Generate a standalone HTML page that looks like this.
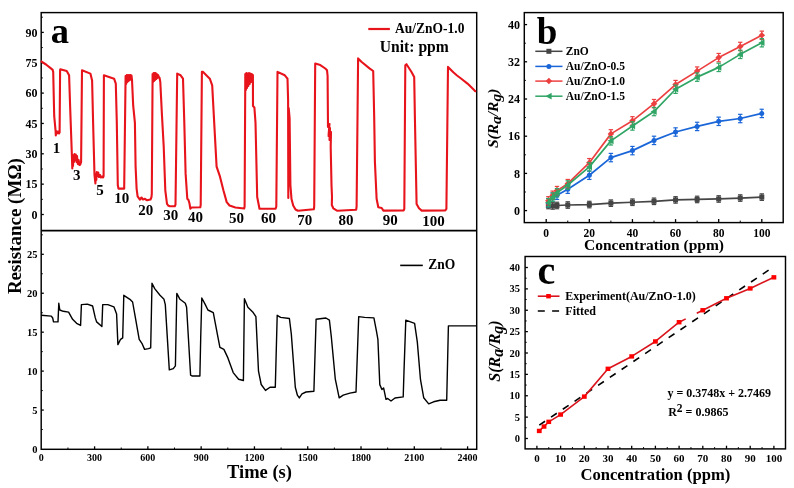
<!DOCTYPE html>
<html><head><meta charset="utf-8"><style>
html,body{margin:0;padding:0;background:#fff;width:794px;height:488px;overflow:hidden}
svg{display:block;will-change:transform}
text{font-family:"Liberation Serif", serif;fill:#000}
</style></head><body>
<svg width="794" height="488" viewBox="0 0 794 488">
<rect x="41.2" y="12.6" width="435.5" height="436.7" fill="none" stroke="#000" stroke-width="1.45"/>
<line x1="41.2" y1="230.7" x2="476.7" y2="230.7" stroke="#000" stroke-width="1.8" />
<line x1="41.2" y1="214.5" x2="43.8" y2="214.5" stroke="#000" stroke-width="1.3" />
<text x="37.6" y="218.6" font-size="12" font-weight="bold" text-anchor="end" >0</text>
<line x1="41.2" y1="184.15" x2="43.8" y2="184.15" stroke="#000" stroke-width="1.3" />
<text x="37.6" y="188.25" font-size="12" font-weight="bold" text-anchor="end" >15</text>
<line x1="41.2" y1="153.8" x2="43.8" y2="153.8" stroke="#000" stroke-width="1.3" />
<text x="37.6" y="157.9" font-size="12" font-weight="bold" text-anchor="end" >30</text>
<line x1="41.2" y1="123.45" x2="43.8" y2="123.45" stroke="#000" stroke-width="1.3" />
<text x="37.6" y="127.55" font-size="12" font-weight="bold" text-anchor="end" >45</text>
<line x1="41.2" y1="93.1" x2="43.8" y2="93.1" stroke="#000" stroke-width="1.3" />
<text x="37.6" y="97.2" font-size="12" font-weight="bold" text-anchor="end" >60</text>
<line x1="41.2" y1="62.75" x2="43.8" y2="62.75" stroke="#000" stroke-width="1.3" />
<text x="37.6" y="66.85" font-size="12" font-weight="bold" text-anchor="end" >75</text>
<line x1="41.2" y1="32.4" x2="43.8" y2="32.4" stroke="#000" stroke-width="1.3" />
<text x="37.6" y="36.5" font-size="12" font-weight="bold" text-anchor="end" >90</text>
<line x1="41.2" y1="199.33" x2="42.8" y2="199.33" stroke="#000" stroke-width="1.0" />
<line x1="41.2" y1="168.98" x2="42.8" y2="168.98" stroke="#000" stroke-width="1.0" />
<line x1="41.2" y1="138.63" x2="42.8" y2="138.63" stroke="#000" stroke-width="1.0" />
<line x1="41.2" y1="108.28" x2="42.8" y2="108.28" stroke="#000" stroke-width="1.0" />
<line x1="41.2" y1="77.93" x2="42.8" y2="77.93" stroke="#000" stroke-width="1.0" />
<line x1="41.2" y1="47.58" x2="42.8" y2="47.58" stroke="#000" stroke-width="1.0" />
<line x1="41.2" y1="17.23" x2="42.8" y2="17.23" stroke="#000" stroke-width="1.0" />
<text x="37.4" y="452.6" font-size="10.5" font-weight="bold" text-anchor="end" >0</text>
<line x1="41.2" y1="410.06" x2="43.8" y2="410.06" stroke="#000" stroke-width="1.3" />
<text x="37.4" y="413.66" font-size="10.5" font-weight="bold" text-anchor="end" >5</text>
<line x1="41.2" y1="371.12" x2="43.8" y2="371.12" stroke="#000" stroke-width="1.3" />
<text x="37.4" y="374.72" font-size="10.5" font-weight="bold" text-anchor="end" >10</text>
<line x1="41.2" y1="332.18" x2="43.8" y2="332.18" stroke="#000" stroke-width="1.3" />
<text x="37.4" y="335.78" font-size="10.5" font-weight="bold" text-anchor="end" >15</text>
<line x1="41.2" y1="293.24" x2="43.8" y2="293.24" stroke="#000" stroke-width="1.3" />
<text x="37.4" y="296.84" font-size="10.5" font-weight="bold" text-anchor="end" >20</text>
<line x1="41.2" y1="254.3" x2="43.8" y2="254.3" stroke="#000" stroke-width="1.3" />
<text x="37.4" y="257.9" font-size="10.5" font-weight="bold" text-anchor="end" >25</text>
<line x1="41.2" y1="429.53" x2="42.8" y2="429.53" stroke="#000" stroke-width="1.0" />
<line x1="41.2" y1="390.59" x2="42.8" y2="390.59" stroke="#000" stroke-width="1.0" />
<line x1="41.2" y1="351.65" x2="42.8" y2="351.65" stroke="#000" stroke-width="1.0" />
<line x1="41.2" y1="312.71" x2="42.8" y2="312.71" stroke="#000" stroke-width="1.0" />
<line x1="41.2" y1="273.77" x2="42.8" y2="273.77" stroke="#000" stroke-width="1.0" />
<line x1="41.2" y1="234.83" x2="42.8" y2="234.83" stroke="#000" stroke-width="1.0" />
<text x="41.3" y="461.3" font-size="10" font-weight="bold" text-anchor="middle" >0</text>
<line x1="94.59" y1="449.3" x2="94.59" y2="446.3" stroke="#000" stroke-width="1.3" />
<text x="94.59" y="461.3" font-size="10" font-weight="bold" text-anchor="middle" >300</text>
<line x1="147.87" y1="449.3" x2="147.87" y2="446.3" stroke="#000" stroke-width="1.3" />
<text x="147.87" y="461.3" font-size="10" font-weight="bold" text-anchor="middle" >600</text>
<line x1="201.16" y1="449.3" x2="201.16" y2="446.3" stroke="#000" stroke-width="1.3" />
<text x="201.16" y="461.3" font-size="10" font-weight="bold" text-anchor="middle" >900</text>
<line x1="254.44" y1="449.3" x2="254.44" y2="446.3" stroke="#000" stroke-width="1.3" />
<text x="254.44" y="461.3" font-size="10" font-weight="bold" text-anchor="middle" >1200</text>
<line x1="307.73" y1="449.3" x2="307.73" y2="446.3" stroke="#000" stroke-width="1.3" />
<text x="307.73" y="461.3" font-size="10" font-weight="bold" text-anchor="middle" >1500</text>
<line x1="361.02" y1="449.3" x2="361.02" y2="446.3" stroke="#000" stroke-width="1.3" />
<text x="361.02" y="461.3" font-size="10" font-weight="bold" text-anchor="middle" >1800</text>
<line x1="414.3" y1="449.3" x2="414.3" y2="446.3" stroke="#000" stroke-width="1.3" />
<text x="414.3" y="461.3" font-size="10" font-weight="bold" text-anchor="middle" >2100</text>
<line x1="467.59" y1="449.3" x2="467.59" y2="446.3" stroke="#000" stroke-width="1.3" />
<text x="467.59" y="461.3" font-size="10" font-weight="bold" text-anchor="middle" >2400</text>
<line x1="67.94" y1="449.3" x2="67.94" y2="447.5" stroke="#000" stroke-width="1.0" />
<line x1="121.23" y1="449.3" x2="121.23" y2="447.5" stroke="#000" stroke-width="1.0" />
<line x1="174.51" y1="449.3" x2="174.51" y2="447.5" stroke="#000" stroke-width="1.0" />
<line x1="227.8" y1="449.3" x2="227.8" y2="447.5" stroke="#000" stroke-width="1.0" />
<line x1="281.09" y1="449.3" x2="281.09" y2="447.5" stroke="#000" stroke-width="1.0" />
<line x1="334.37" y1="449.3" x2="334.37" y2="447.5" stroke="#000" stroke-width="1.0" />
<line x1="387.66" y1="449.3" x2="387.66" y2="447.5" stroke="#000" stroke-width="1.0" />
<line x1="440.94" y1="449.3" x2="440.94" y2="447.5" stroke="#000" stroke-width="1.0" />
<text x="259.5" y="477.9" font-size="18.5" font-weight="bold" text-anchor="middle" >Time (s)</text>
<text transform="translate(20.6,226.1) rotate(-90)" font-size="19" font-weight="bold" text-anchor="middle">Resistance (MΩ)</text>
<text x="50.8" y="42.8" font-size="36.5" font-weight="bold" text-anchor="start" >a</text>
<line x1="368.3" y1="29" x2="389.9" y2="29" stroke="#e8141c" stroke-width="2.2" />
<g transform="translate(395.1,33.1) scale(1,1.12)">
<text x="0" y="0" font-size="13.5" font-weight="bold" text-anchor="start" >Au/ZnO-1.0</text>
</g>
<text x="379.8" y="51.6" font-size="16" font-weight="bold" text-anchor="start" textLength="69" lengthAdjust="spacingAndGlyphs">Unit: ppm</text>
<line x1="400.2" y1="265.4" x2="422.8" y2="265.4" stroke="#000" stroke-width="1.6" />
<g transform="translate(428.2,269.2) scale(1,1.1)">
<text x="0" y="0" font-size="13.5" font-weight="bold" text-anchor="start" >ZnO</text>
</g>
<text x="56.6" y="153.4" font-size="15" font-weight="bold" text-anchor="middle" >1</text>
<text x="76.7" y="179.8" font-size="15" font-weight="bold" text-anchor="middle" >3</text>
<text x="99.9" y="194.9" font-size="15" font-weight="bold" text-anchor="middle" >5</text>
<text x="121.8" y="203.2" font-size="15" font-weight="bold" text-anchor="middle" >10</text>
<text x="145.7" y="214.6" font-size="15" font-weight="bold" text-anchor="middle" >20</text>
<text x="170.8" y="220" font-size="15" font-weight="bold" text-anchor="middle" >30</text>
<text x="195.5" y="221.5" font-size="15" font-weight="bold" text-anchor="middle" >40</text>
<text x="236.5" y="223.3" font-size="15" font-weight="bold" text-anchor="middle" >50</text>
<text x="268.6" y="223" font-size="15" font-weight="bold" text-anchor="middle" >60</text>
<text x="304.7" y="225" font-size="15" font-weight="bold" text-anchor="middle" >70</text>
<text x="346" y="224.6" font-size="15" font-weight="bold" text-anchor="middle" >80</text>
<text x="390.3" y="225.4" font-size="15" font-weight="bold" text-anchor="middle" >90</text>
<text x="433.4" y="226" font-size="15" font-weight="bold" text-anchor="middle" >100</text>
<polyline points="40.8,61.1 46,64.5 50.9,68.4 52.7,69.9 53.2,72 54.2,115.9 55.6,131.1 55.8,135.5 56.3,131 57,133.5 58,131.5 59,133.5 59.6,132.5 60.1,70.2 60.3,69.2 66.7,70.9 69.1,75.3 70.1,105.7 71.8,153 72.3,168.5 72.6,158 73,166 73.5,155 74,162 74.5,154 75.2,160 75.8,154.5 76.5,162 77,156 77.8,164 78.6,160 79.5,165 80.3,164.5 81.1,162 82,70.2 90.4,73.6 92.1,80.4 93.1,122.6 94.5,175 95.4,183.5 95.8,174 96.3,180 96.8,172 97.5,176 98.2,172.5 99,177 100,175 101,177.5 102.2,176.5 103,177.5 103.6,176 103.9,75.3 114.1,78.7 115.8,83.7 116.8,122.6 117.8,185.2 118.5,188.6 124.2,188.6 124.2,186.9 125.6,76 126.2,84 126.8,75 127.4,82 128,75 128.6,81 129.2,75 129.8,80 130.4,75 131,79 131.5,75.5 132,80 133.2,105.7 134.9,122.6 135.6,166.6 136.6,188.6 137.6,196.3 139.9,199.6 141.5,197.5 143,199.5 145,198.8 147,200.3 150.5,199.5 151.5,197 151.8,193.7 152.6,74 153.1,82 153.6,73 154.1,81 154.6,73 155.1,80 155.6,73 156.2,79 156.8,74 157.4,78 158,75 158.8,77 159.6,78 160.3,82 162,115.9 163.7,146.3 165.3,190.3 167,203.8 168.5,205.8 170,206.3 174.8,206.3 175.5,204.5 177.2,73.6 180.6,75.3 183,78.7 184.3,122.6 185.6,173.4 187.3,198.7 188.5,200 189.5,203.5 190.3,208.7 191.5,207.5 200.3,207.3 200.7,205 201.9,71.9 203.1,71.9 209.8,78.7 212.2,85.4 214.2,122.6 216.6,166.6 220,176.7 223.4,190.3 226.7,202.1 229.5,205.5 235.4,207.5 244.2,208.5 244.6,206.5 245.3,74 245.9,90 246.4,73 247,88 247.6,73.5 248.3,86 249,73 249.7,84 250.4,73.5 251.1,82 251.8,74 252.5,80 252.9,75 253,106 254.4,107.5 255.5,122.6 257.2,197 259.5,208.7 275.6,208.7 276.3,206.5 277.5,71.9 284.8,75.3 287.5,78.7 288.1,100 288.3,198 288.7,108 289.6,118 290.4,185 291.5,199 293.2,205.5 295.5,209.5 298,210.8 313.8,209.3 314.2,206.5 315.2,63.5 320.3,65.1 325.3,68.5 327,70.2 327.6,76 328,127 329.5,124 328.5,136 330,128 329.5,140 331,132 330.7,147 331.5,185 332,197 331.8,205 333.3,208.3 337.4,210.8 356.2,209.7 356.6,206.5 358.1,58.4 361.4,61.8 369.8,68.6 373.2,71 374.2,117.6 374.9,161.6 376.6,198.8 378.3,207.3 381.7,208 383.4,210.6 403.7,210.4 404.3,208.9 405.3,65.2 406.5,64.2 411.5,72 414.2,77.1 414.9,117.6 416.6,203.9 419,208.3 421.7,210.6 445.3,210.4 446.4,208.9 448,66.9 450.5,69.5 453.3,72.3 457,75.5 461,78.5 467.5,83.6 474.6,90.6 476,91.8" fill="none" stroke="#e8141c" stroke-width="2.1" stroke-linejoin="round" />
<polyline points="41.2,315.3 51.3,316.1 52.7,318 53.5,321.9 58,321.9 58.8,303.3 59.8,310 63.3,311.3 68.6,312.1 72.6,319.3 76.6,323.3 80.6,325.4 81.4,304.6 87.3,304.1 92.6,306 95.3,317.9 96.6,321.9 101.9,326.5 102.7,304.6 107.8,304.6 113.9,306.8 116.6,314 117.9,344.6 120.6,339.3 122.7,337.9 123.8,295.3 129.9,299.3 132.6,302 135.2,316.6 139.2,339.3 141.9,343.3 144.6,349.4 148.5,348.6 150.7,347.8 152,283.3 154.7,288.6 160,295.3 164,299.3 165.3,304.6 169.3,369.9 173.3,368.6 175.4,365.9 176.8,293.4 180,299.3 185.3,303.3 186.6,307.3 190.6,375.2 192,376 199.9,376 200.7,337.9 201.8,298 205.3,304.6 207.9,310 213.3,312.6 217.3,333.9 219.9,347.3 223.9,349.4 227.9,357.9 233.2,372.6 238.6,379.2 243.4,380.5 244.4,298.8 247.9,307.3 253.2,312.6 255.9,316.6 258.5,371.2 261.2,384.5 265.5,390.4 270,387.2 275.3,387.2 277.2,315.3 280.6,317.4 289.4,318.5 291.3,333.9 295.3,387.2 297.4,395.2 299.3,397.9 302,393.9 306,392 313.9,391.2 316.1,319.3 325.9,318 329.4,320.1 331.3,336.6 335.3,379.2 339.2,397.9 343.2,395.2 349.9,393.1 356,392 358.7,316.6 364.6,317.4 373.9,317.9 376.5,331.3 377.9,339.3 379.8,384.6 381.9,389.5 383.6,387.9 386,399.3 387.7,398.5 391,401 395,398 403.2,396.9 404,371.2 405.8,320.1 414.6,323.3 417.3,341.9 420.5,379.7 423.7,397.7 428.7,403.9 433.6,401.8 440.1,400.2 446.7,400.2 448.4,325.9 476,325.9" fill="none" stroke="#000" stroke-width="1.4" stroke-linejoin="round" />
<rect x="524.3" y="12.6" width="258.9" height="210" fill="none" stroke="#000" stroke-width="1.45"/>
<line x1="524.3" y1="210.6" x2="527.1" y2="210.6" stroke="#000" stroke-width="1.3" />
<text x="519.9" y="214.7" font-size="12" font-weight="bold" text-anchor="end" >0</text>
<line x1="524.3" y1="173.4" x2="527.1" y2="173.4" stroke="#000" stroke-width="1.3" />
<text x="519.9" y="177.5" font-size="12" font-weight="bold" text-anchor="end" >8</text>
<line x1="524.3" y1="136.2" x2="527.1" y2="136.2" stroke="#000" stroke-width="1.3" />
<text x="519.9" y="140.3" font-size="12" font-weight="bold" text-anchor="end" >16</text>
<line x1="524.3" y1="99" x2="527.1" y2="99" stroke="#000" stroke-width="1.3" />
<text x="519.9" y="103.1" font-size="12" font-weight="bold" text-anchor="end" >24</text>
<line x1="524.3" y1="61.8" x2="527.1" y2="61.8" stroke="#000" stroke-width="1.3" />
<text x="519.9" y="65.9" font-size="12" font-weight="bold" text-anchor="end" >32</text>
<line x1="524.3" y1="24.6" x2="527.1" y2="24.6" stroke="#000" stroke-width="1.3" />
<text x="519.9" y="28.7" font-size="12" font-weight="bold" text-anchor="end" >40</text>
<line x1="524.3" y1="192" x2="525.9" y2="192" stroke="#000" stroke-width="1.0" />
<line x1="524.3" y1="154.8" x2="525.9" y2="154.8" stroke="#000" stroke-width="1.0" />
<line x1="524.3" y1="117.6" x2="525.9" y2="117.6" stroke="#000" stroke-width="1.0" />
<line x1="524.3" y1="80.4" x2="525.9" y2="80.4" stroke="#000" stroke-width="1.0" />
<line x1="524.3" y1="43.2" x2="525.9" y2="43.2" stroke="#000" stroke-width="1.0" />
<line x1="546.2" y1="222.6" x2="546.2" y2="219.1" stroke="#000" stroke-width="1.3" />
<text x="546.2" y="236.8" font-size="11.5" font-weight="bold" text-anchor="middle" >0</text>
<line x1="589.32" y1="222.6" x2="589.32" y2="219.1" stroke="#000" stroke-width="1.3" />
<text x="589.32" y="236.8" font-size="11.5" font-weight="bold" text-anchor="middle" >20</text>
<line x1="632.44" y1="222.6" x2="632.44" y2="219.1" stroke="#000" stroke-width="1.3" />
<text x="632.44" y="236.8" font-size="11.5" font-weight="bold" text-anchor="middle" >40</text>
<line x1="675.56" y1="222.6" x2="675.56" y2="219.1" stroke="#000" stroke-width="1.3" />
<text x="675.56" y="236.8" font-size="11.5" font-weight="bold" text-anchor="middle" >60</text>
<line x1="718.68" y1="222.6" x2="718.68" y2="219.1" stroke="#000" stroke-width="1.3" />
<text x="718.68" y="236.8" font-size="11.5" font-weight="bold" text-anchor="middle" >80</text>
<line x1="761.8" y1="222.6" x2="761.8" y2="219.1" stroke="#000" stroke-width="1.3" />
<text x="761.8" y="236.8" font-size="11.5" font-weight="bold" text-anchor="middle" >100</text>
<line x1="567.76" y1="222.6" x2="567.76" y2="220.6" stroke="#000" stroke-width="1.0" />
<line x1="610.88" y1="222.6" x2="610.88" y2="220.6" stroke="#000" stroke-width="1.0" />
<line x1="654" y1="222.6" x2="654" y2="220.6" stroke="#000" stroke-width="1.0" />
<line x1="697.12" y1="222.6" x2="697.12" y2="220.6" stroke="#000" stroke-width="1.0" />
<line x1="740.24" y1="222.6" x2="740.24" y2="220.6" stroke="#000" stroke-width="1.0" />
<text x="654" y="249.8" font-size="15.5" font-weight="bold" text-anchor="middle" >Concentration (ppm)</text>
<text transform="translate(497.5,118.4) rotate(-90)" font-size="15.5" font-weight="bold" font-style="italic" text-anchor="middle">S(R<tspan dy="3.5">a</tspan><tspan dy="-3.5">/R</tspan><tspan dy="3.5">g</tspan><tspan dy="-3.5">)</tspan></text>
<text x="536.8" y="44" font-size="37" font-weight="bold" text-anchor="start" >b</text>
<polyline points="548.36,205.48 552.67,205.95 556.98,205.48 567.76,205.02 589.32,204.56 610.88,203.16 632.44,202.23 654,201.3 675.56,199.91 697.12,199.44 718.68,198.97 740.24,198.04 761.8,197.11" fill="none" stroke="#454545" stroke-width="1.7" stroke-linejoin="round" />
<line x1="548.36" y1="202.23" x2="548.36" y2="208.74" stroke="#454545" stroke-width="1.2" />
<line x1="546.16" y1="202.23" x2="550.56" y2="202.23" stroke="#454545" stroke-width="1.2" />
<line x1="546.16" y1="208.74" x2="550.56" y2="208.74" stroke="#454545" stroke-width="1.2" />
<rect x="545.86" y="202.98" width="5" height="5" fill="#454545"/>
<line x1="552.67" y1="202.69" x2="552.67" y2="209.2" stroke="#454545" stroke-width="1.2" />
<line x1="550.47" y1="202.69" x2="554.87" y2="202.69" stroke="#454545" stroke-width="1.2" />
<line x1="550.47" y1="209.2" x2="554.87" y2="209.2" stroke="#454545" stroke-width="1.2" />
<rect x="550.17" y="203.45" width="5" height="5" fill="#454545"/>
<line x1="556.98" y1="202.23" x2="556.98" y2="208.74" stroke="#454545" stroke-width="1.2" />
<line x1="554.78" y1="202.23" x2="559.18" y2="202.23" stroke="#454545" stroke-width="1.2" />
<line x1="554.78" y1="208.74" x2="559.18" y2="208.74" stroke="#454545" stroke-width="1.2" />
<rect x="554.48" y="202.98" width="5" height="5" fill="#454545"/>
<line x1="567.76" y1="201.76" x2="567.76" y2="208.27" stroke="#454545" stroke-width="1.2" />
<line x1="565.56" y1="201.76" x2="569.96" y2="201.76" stroke="#454545" stroke-width="1.2" />
<line x1="565.56" y1="208.27" x2="569.96" y2="208.27" stroke="#454545" stroke-width="1.2" />
<rect x="565.26" y="202.52" width="5" height="5" fill="#454545"/>
<line x1="589.32" y1="201.3" x2="589.32" y2="207.81" stroke="#454545" stroke-width="1.2" />
<line x1="587.12" y1="201.3" x2="591.52" y2="201.3" stroke="#454545" stroke-width="1.2" />
<line x1="587.12" y1="207.81" x2="591.52" y2="207.81" stroke="#454545" stroke-width="1.2" />
<rect x="586.82" y="202.06" width="5" height="5" fill="#454545"/>
<line x1="610.88" y1="199.91" x2="610.88" y2="206.41" stroke="#454545" stroke-width="1.2" />
<line x1="608.68" y1="199.91" x2="613.08" y2="199.91" stroke="#454545" stroke-width="1.2" />
<line x1="608.68" y1="206.41" x2="613.08" y2="206.41" stroke="#454545" stroke-width="1.2" />
<rect x="608.38" y="200.66" width="5" height="5" fill="#454545"/>
<line x1="632.44" y1="198.97" x2="632.44" y2="205.48" stroke="#454545" stroke-width="1.2" />
<line x1="630.24" y1="198.97" x2="634.64" y2="198.97" stroke="#454545" stroke-width="1.2" />
<line x1="630.24" y1="205.48" x2="634.64" y2="205.48" stroke="#454545" stroke-width="1.2" />
<rect x="629.94" y="199.73" width="5" height="5" fill="#454545"/>
<line x1="654" y1="198.04" x2="654" y2="204.55" stroke="#454545" stroke-width="1.2" />
<line x1="651.8" y1="198.04" x2="656.2" y2="198.04" stroke="#454545" stroke-width="1.2" />
<line x1="651.8" y1="204.55" x2="656.2" y2="204.55" stroke="#454545" stroke-width="1.2" />
<rect x="651.5" y="198.8" width="5" height="5" fill="#454545"/>
<line x1="675.56" y1="196.65" x2="675.56" y2="203.16" stroke="#454545" stroke-width="1.2" />
<line x1="673.36" y1="196.65" x2="677.76" y2="196.65" stroke="#454545" stroke-width="1.2" />
<line x1="673.36" y1="203.16" x2="677.76" y2="203.16" stroke="#454545" stroke-width="1.2" />
<rect x="673.06" y="197.41" width="5" height="5" fill="#454545"/>
<line x1="697.12" y1="196.19" x2="697.12" y2="202.69" stroke="#454545" stroke-width="1.2" />
<line x1="694.92" y1="196.19" x2="699.32" y2="196.19" stroke="#454545" stroke-width="1.2" />
<line x1="694.92" y1="202.69" x2="699.32" y2="202.69" stroke="#454545" stroke-width="1.2" />
<rect x="694.62" y="196.94" width="5" height="5" fill="#454545"/>
<line x1="718.68" y1="195.72" x2="718.68" y2="202.23" stroke="#454545" stroke-width="1.2" />
<line x1="716.48" y1="195.72" x2="720.88" y2="195.72" stroke="#454545" stroke-width="1.2" />
<line x1="716.48" y1="202.23" x2="720.88" y2="202.23" stroke="#454545" stroke-width="1.2" />
<rect x="716.18" y="196.47" width="5" height="5" fill="#454545"/>
<line x1="740.24" y1="194.79" x2="740.24" y2="201.3" stroke="#454545" stroke-width="1.2" />
<line x1="738.04" y1="194.79" x2="742.44" y2="194.79" stroke="#454545" stroke-width="1.2" />
<line x1="738.04" y1="201.3" x2="742.44" y2="201.3" stroke="#454545" stroke-width="1.2" />
<rect x="737.74" y="195.54" width="5" height="5" fill="#454545"/>
<line x1="761.8" y1="193.86" x2="761.8" y2="200.37" stroke="#454545" stroke-width="1.2" />
<line x1="759.6" y1="193.86" x2="764" y2="193.86" stroke="#454545" stroke-width="1.2" />
<line x1="759.6" y1="200.37" x2="764" y2="200.37" stroke="#454545" stroke-width="1.2" />
<rect x="759.3" y="194.61" width="5" height="5" fill="#454545"/>
<polyline points="548.36,202.69 552.67,197.11 556.98,195.25 567.76,189.21 589.32,175.26 610.88,157.59 632.44,150.61 654,140.38 675.56,132.01 697.12,126.43 718.68,121.32 740.24,118.53 761.8,113.41" fill="none" stroke="#1a66d8" stroke-width="1.7" stroke-linejoin="round" />
<line x1="548.36" y1="198.51" x2="548.36" y2="206.88" stroke="#1a66d8" stroke-width="1.2" />
<line x1="546.16" y1="198.51" x2="550.56" y2="198.51" stroke="#1a66d8" stroke-width="1.2" />
<line x1="546.16" y1="206.88" x2="550.56" y2="206.88" stroke="#1a66d8" stroke-width="1.2" />
<circle cx="548.36" cy="202.69" r="2.5" fill="#1a66d8"/>
<line x1="552.67" y1="192.93" x2="552.67" y2="201.3" stroke="#1a66d8" stroke-width="1.2" />
<line x1="550.47" y1="192.93" x2="554.87" y2="192.93" stroke="#1a66d8" stroke-width="1.2" />
<line x1="550.47" y1="201.3" x2="554.87" y2="201.3" stroke="#1a66d8" stroke-width="1.2" />
<circle cx="552.67" cy="197.11" r="2.5" fill="#1a66d8"/>
<line x1="556.98" y1="191.07" x2="556.98" y2="199.44" stroke="#1a66d8" stroke-width="1.2" />
<line x1="554.78" y1="191.07" x2="559.18" y2="191.07" stroke="#1a66d8" stroke-width="1.2" />
<line x1="554.78" y1="199.44" x2="559.18" y2="199.44" stroke="#1a66d8" stroke-width="1.2" />
<circle cx="556.98" cy="195.25" r="2.5" fill="#1a66d8"/>
<line x1="567.76" y1="185.02" x2="567.76" y2="193.39" stroke="#1a66d8" stroke-width="1.2" />
<line x1="565.56" y1="185.02" x2="569.96" y2="185.02" stroke="#1a66d8" stroke-width="1.2" />
<line x1="565.56" y1="193.39" x2="569.96" y2="193.39" stroke="#1a66d8" stroke-width="1.2" />
<circle cx="567.76" cy="189.21" r="2.5" fill="#1a66d8"/>
<line x1="589.32" y1="171.07" x2="589.32" y2="179.44" stroke="#1a66d8" stroke-width="1.2" />
<line x1="587.12" y1="171.07" x2="591.52" y2="171.07" stroke="#1a66d8" stroke-width="1.2" />
<line x1="587.12" y1="179.44" x2="591.52" y2="179.44" stroke="#1a66d8" stroke-width="1.2" />
<circle cx="589.32" cy="175.26" r="2.5" fill="#1a66d8"/>
<line x1="610.88" y1="153.4" x2="610.88" y2="161.77" stroke="#1a66d8" stroke-width="1.2" />
<line x1="608.68" y1="153.4" x2="613.08" y2="153.4" stroke="#1a66d8" stroke-width="1.2" />
<line x1="608.68" y1="161.77" x2="613.08" y2="161.77" stroke="#1a66d8" stroke-width="1.2" />
<circle cx="610.88" cy="157.59" r="2.5" fill="#1a66d8"/>
<line x1="632.44" y1="146.43" x2="632.44" y2="154.8" stroke="#1a66d8" stroke-width="1.2" />
<line x1="630.24" y1="146.43" x2="634.64" y2="146.43" stroke="#1a66d8" stroke-width="1.2" />
<line x1="630.24" y1="154.8" x2="634.64" y2="154.8" stroke="#1a66d8" stroke-width="1.2" />
<circle cx="632.44" cy="150.61" r="2.5" fill="#1a66d8"/>
<line x1="654" y1="136.2" x2="654" y2="144.57" stroke="#1a66d8" stroke-width="1.2" />
<line x1="651.8" y1="136.2" x2="656.2" y2="136.2" stroke="#1a66d8" stroke-width="1.2" />
<line x1="651.8" y1="144.57" x2="656.2" y2="144.57" stroke="#1a66d8" stroke-width="1.2" />
<circle cx="654" cy="140.38" r="2.5" fill="#1a66d8"/>
<line x1="675.56" y1="127.83" x2="675.56" y2="136.2" stroke="#1a66d8" stroke-width="1.2" />
<line x1="673.36" y1="127.83" x2="677.76" y2="127.83" stroke="#1a66d8" stroke-width="1.2" />
<line x1="673.36" y1="136.2" x2="677.76" y2="136.2" stroke="#1a66d8" stroke-width="1.2" />
<circle cx="675.56" cy="132.01" r="2.5" fill="#1a66d8"/>
<line x1="697.12" y1="122.25" x2="697.12" y2="130.62" stroke="#1a66d8" stroke-width="1.2" />
<line x1="694.92" y1="122.25" x2="699.32" y2="122.25" stroke="#1a66d8" stroke-width="1.2" />
<line x1="694.92" y1="130.62" x2="699.32" y2="130.62" stroke="#1a66d8" stroke-width="1.2" />
<circle cx="697.12" cy="126.43" r="2.5" fill="#1a66d8"/>
<line x1="718.68" y1="117.13" x2="718.68" y2="125.5" stroke="#1a66d8" stroke-width="1.2" />
<line x1="716.48" y1="117.13" x2="720.88" y2="117.13" stroke="#1a66d8" stroke-width="1.2" />
<line x1="716.48" y1="125.5" x2="720.88" y2="125.5" stroke="#1a66d8" stroke-width="1.2" />
<circle cx="718.68" cy="121.32" r="2.5" fill="#1a66d8"/>
<line x1="740.24" y1="114.34" x2="740.24" y2="122.71" stroke="#1a66d8" stroke-width="1.2" />
<line x1="738.04" y1="114.34" x2="742.44" y2="114.34" stroke="#1a66d8" stroke-width="1.2" />
<line x1="738.04" y1="122.71" x2="742.44" y2="122.71" stroke="#1a66d8" stroke-width="1.2" />
<circle cx="740.24" cy="118.53" r="2.5" fill="#1a66d8"/>
<line x1="761.8" y1="109.23" x2="761.8" y2="117.6" stroke="#1a66d8" stroke-width="1.2" />
<line x1="759.6" y1="109.23" x2="764" y2="109.23" stroke="#1a66d8" stroke-width="1.2" />
<line x1="759.6" y1="117.6" x2="764" y2="117.6" stroke="#1a66d8" stroke-width="1.2" />
<circle cx="761.8" cy="113.41" r="2.5" fill="#1a66d8"/>
<polyline points="548.36,200.83 552.67,195.25 556.98,190.6 567.76,183.63 589.32,162.7 610.88,133.88 632.44,120.85 654,103.65 675.56,84.58 697.12,71.1 718.68,57.61 740.24,46.45 761.8,35.29" fill="none" stroke="#ec4040" stroke-width="1.7" stroke-linejoin="round" />
<line x1="548.36" y1="196.65" x2="548.36" y2="205.02" stroke="#ec4040" stroke-width="1.2" />
<line x1="546.16" y1="196.65" x2="550.56" y2="196.65" stroke="#ec4040" stroke-width="1.2" />
<line x1="546.16" y1="205.02" x2="550.56" y2="205.02" stroke="#ec4040" stroke-width="1.2" />
<polygon points="548.36,197.58 551.61,200.83 548.36,204.08 545.11,200.83" fill="#ec4040"/>
<line x1="552.67" y1="191.07" x2="552.67" y2="199.44" stroke="#ec4040" stroke-width="1.2" />
<line x1="550.47" y1="191.07" x2="554.87" y2="191.07" stroke="#ec4040" stroke-width="1.2" />
<line x1="550.47" y1="199.44" x2="554.87" y2="199.44" stroke="#ec4040" stroke-width="1.2" />
<polygon points="552.67,192 555.92,195.25 552.67,198.5 549.42,195.25" fill="#ec4040"/>
<line x1="556.98" y1="186.42" x2="556.98" y2="194.79" stroke="#ec4040" stroke-width="1.2" />
<line x1="554.78" y1="186.42" x2="559.18" y2="186.42" stroke="#ec4040" stroke-width="1.2" />
<line x1="554.78" y1="194.79" x2="559.18" y2="194.79" stroke="#ec4040" stroke-width="1.2" />
<polygon points="556.98,187.35 560.23,190.6 556.98,193.85 553.73,190.6" fill="#ec4040"/>
<line x1="567.76" y1="179.44" x2="567.76" y2="187.81" stroke="#ec4040" stroke-width="1.2" />
<line x1="565.56" y1="179.44" x2="569.96" y2="179.44" stroke="#ec4040" stroke-width="1.2" />
<line x1="565.56" y1="187.81" x2="569.96" y2="187.81" stroke="#ec4040" stroke-width="1.2" />
<polygon points="567.76,180.38 571.01,183.63 567.76,186.88 564.51,183.63" fill="#ec4040"/>
<line x1="589.32" y1="158.52" x2="589.32" y2="166.89" stroke="#ec4040" stroke-width="1.2" />
<line x1="587.12" y1="158.52" x2="591.52" y2="158.52" stroke="#ec4040" stroke-width="1.2" />
<line x1="587.12" y1="166.89" x2="591.52" y2="166.89" stroke="#ec4040" stroke-width="1.2" />
<polygon points="589.32,159.45 592.57,162.7 589.32,165.95 586.07,162.7" fill="#ec4040"/>
<line x1="610.88" y1="129.69" x2="610.88" y2="138.06" stroke="#ec4040" stroke-width="1.2" />
<line x1="608.68" y1="129.69" x2="613.08" y2="129.69" stroke="#ec4040" stroke-width="1.2" />
<line x1="608.68" y1="138.06" x2="613.08" y2="138.06" stroke="#ec4040" stroke-width="1.2" />
<polygon points="610.88,130.62 614.13,133.88 610.88,137.12 607.63,133.88" fill="#ec4040"/>
<line x1="632.44" y1="116.67" x2="632.44" y2="125.04" stroke="#ec4040" stroke-width="1.2" />
<line x1="630.24" y1="116.67" x2="634.64" y2="116.67" stroke="#ec4040" stroke-width="1.2" />
<line x1="630.24" y1="125.04" x2="634.64" y2="125.04" stroke="#ec4040" stroke-width="1.2" />
<polygon points="632.44,117.6 635.69,120.85 632.44,124.1 629.19,120.85" fill="#ec4040"/>
<line x1="654" y1="99.46" x2="654" y2="107.83" stroke="#ec4040" stroke-width="1.2" />
<line x1="651.8" y1="99.46" x2="656.2" y2="99.46" stroke="#ec4040" stroke-width="1.2" />
<line x1="651.8" y1="107.83" x2="656.2" y2="107.83" stroke="#ec4040" stroke-width="1.2" />
<polygon points="654,100.4 657.25,103.65 654,106.9 650.75,103.65" fill="#ec4040"/>
<line x1="675.56" y1="80.4" x2="675.56" y2="88.77" stroke="#ec4040" stroke-width="1.2" />
<line x1="673.36" y1="80.4" x2="677.76" y2="80.4" stroke="#ec4040" stroke-width="1.2" />
<line x1="673.36" y1="88.77" x2="677.76" y2="88.77" stroke="#ec4040" stroke-width="1.2" />
<polygon points="675.56,81.33 678.81,84.58 675.56,87.83 672.31,84.58" fill="#ec4040"/>
<line x1="697.12" y1="66.91" x2="697.12" y2="75.28" stroke="#ec4040" stroke-width="1.2" />
<line x1="694.92" y1="66.91" x2="699.32" y2="66.91" stroke="#ec4040" stroke-width="1.2" />
<line x1="694.92" y1="75.28" x2="699.32" y2="75.28" stroke="#ec4040" stroke-width="1.2" />
<polygon points="697.12,67.85 700.37,71.1 697.12,74.35 693.87,71.1" fill="#ec4040"/>
<line x1="718.68" y1="53.43" x2="718.68" y2="61.8" stroke="#ec4040" stroke-width="1.2" />
<line x1="716.48" y1="53.43" x2="720.88" y2="53.43" stroke="#ec4040" stroke-width="1.2" />
<line x1="716.48" y1="61.8" x2="720.88" y2="61.8" stroke="#ec4040" stroke-width="1.2" />
<polygon points="718.68,54.36 721.93,57.61 718.68,60.86 715.43,57.61" fill="#ec4040"/>
<line x1="740.24" y1="42.27" x2="740.24" y2="50.64" stroke="#ec4040" stroke-width="1.2" />
<line x1="738.04" y1="42.27" x2="742.44" y2="42.27" stroke="#ec4040" stroke-width="1.2" />
<line x1="738.04" y1="50.64" x2="742.44" y2="50.64" stroke="#ec4040" stroke-width="1.2" />
<polygon points="740.24,43.2 743.49,46.45 740.24,49.7 736.99,46.45" fill="#ec4040"/>
<line x1="761.8" y1="31.11" x2="761.8" y2="39.48" stroke="#ec4040" stroke-width="1.2" />
<line x1="759.6" y1="31.11" x2="764" y2="31.11" stroke="#ec4040" stroke-width="1.2" />
<line x1="759.6" y1="39.48" x2="764" y2="39.48" stroke="#ec4040" stroke-width="1.2" />
<polygon points="761.8,32.04 765.05,35.29 761.8,38.54 758.55,35.29" fill="#ec4040"/>
<polyline points="548.36,202.69 552.67,197.11 556.98,192.7 567.76,185.02 589.32,166.89 610.88,140.85 632.44,125.97 654,111.55 675.56,89.23 697.12,77.14 718.68,67.38 740.24,54.36 761.8,42.73" fill="none" stroke="#30a565" stroke-width="1.7" stroke-linejoin="round" />
<line x1="548.36" y1="198.51" x2="548.36" y2="206.88" stroke="#30a565" stroke-width="1.2" />
<line x1="546.16" y1="198.51" x2="550.56" y2="198.51" stroke="#30a565" stroke-width="1.2" />
<line x1="546.16" y1="206.88" x2="550.56" y2="206.88" stroke="#30a565" stroke-width="1.2" />
<polygon points="544.98,202.69 551.06,199.32 551.06,206.07" fill="#30a565"/>
<line x1="552.67" y1="192.93" x2="552.67" y2="201.3" stroke="#30a565" stroke-width="1.2" />
<line x1="550.47" y1="192.93" x2="554.87" y2="192.93" stroke="#30a565" stroke-width="1.2" />
<line x1="550.47" y1="201.3" x2="554.87" y2="201.3" stroke="#30a565" stroke-width="1.2" />
<polygon points="549.29,197.11 555.37,193.74 555.37,200.49" fill="#30a565"/>
<line x1="556.98" y1="188.51" x2="556.98" y2="196.88" stroke="#30a565" stroke-width="1.2" />
<line x1="554.78" y1="188.51" x2="559.18" y2="188.51" stroke="#30a565" stroke-width="1.2" />
<line x1="554.78" y1="196.88" x2="559.18" y2="196.88" stroke="#30a565" stroke-width="1.2" />
<polygon points="553.61,192.7 559.68,189.32 559.68,196.07" fill="#30a565"/>
<line x1="567.76" y1="180.84" x2="567.76" y2="189.21" stroke="#30a565" stroke-width="1.2" />
<line x1="565.56" y1="180.84" x2="569.96" y2="180.84" stroke="#30a565" stroke-width="1.2" />
<line x1="565.56" y1="189.21" x2="569.96" y2="189.21" stroke="#30a565" stroke-width="1.2" />
<polygon points="564.38,185.02 570.46,181.65 570.46,188.4" fill="#30a565"/>
<line x1="589.32" y1="162.7" x2="589.32" y2="171.07" stroke="#30a565" stroke-width="1.2" />
<line x1="587.12" y1="162.7" x2="591.52" y2="162.7" stroke="#30a565" stroke-width="1.2" />
<line x1="587.12" y1="171.07" x2="591.52" y2="171.07" stroke="#30a565" stroke-width="1.2" />
<polygon points="585.95,166.89 592.02,163.51 592.02,170.26" fill="#30a565"/>
<line x1="610.88" y1="136.66" x2="610.88" y2="145.03" stroke="#30a565" stroke-width="1.2" />
<line x1="608.68" y1="136.66" x2="613.08" y2="136.66" stroke="#30a565" stroke-width="1.2" />
<line x1="608.68" y1="145.03" x2="613.08" y2="145.03" stroke="#30a565" stroke-width="1.2" />
<polygon points="607.51,140.85 613.58,137.47 613.58,144.22" fill="#30a565"/>
<line x1="632.44" y1="121.78" x2="632.44" y2="130.15" stroke="#30a565" stroke-width="1.2" />
<line x1="630.24" y1="121.78" x2="634.64" y2="121.78" stroke="#30a565" stroke-width="1.2" />
<line x1="630.24" y1="130.15" x2="634.64" y2="130.15" stroke="#30a565" stroke-width="1.2" />
<polygon points="629.07,125.97 635.14,122.59 635.14,129.34" fill="#30a565"/>
<line x1="654" y1="107.37" x2="654" y2="115.74" stroke="#30a565" stroke-width="1.2" />
<line x1="651.8" y1="107.37" x2="656.2" y2="107.37" stroke="#30a565" stroke-width="1.2" />
<line x1="651.8" y1="115.74" x2="656.2" y2="115.74" stroke="#30a565" stroke-width="1.2" />
<polygon points="650.62,111.55 656.7,108.18 656.7,114.93" fill="#30a565"/>
<line x1="675.56" y1="85.05" x2="675.56" y2="93.42" stroke="#30a565" stroke-width="1.2" />
<line x1="673.36" y1="85.05" x2="677.76" y2="85.05" stroke="#30a565" stroke-width="1.2" />
<line x1="673.36" y1="93.42" x2="677.76" y2="93.42" stroke="#30a565" stroke-width="1.2" />
<polygon points="672.19,89.23 678.26,85.86 678.26,92.61" fill="#30a565"/>
<line x1="697.12" y1="72.96" x2="697.12" y2="81.33" stroke="#30a565" stroke-width="1.2" />
<line x1="694.92" y1="72.96" x2="699.32" y2="72.96" stroke="#30a565" stroke-width="1.2" />
<line x1="694.92" y1="81.33" x2="699.32" y2="81.33" stroke="#30a565" stroke-width="1.2" />
<polygon points="693.75,77.14 699.82,73.77 699.82,80.52" fill="#30a565"/>
<line x1="718.68" y1="63.19" x2="718.68" y2="71.56" stroke="#30a565" stroke-width="1.2" />
<line x1="716.48" y1="63.19" x2="720.88" y2="63.19" stroke="#30a565" stroke-width="1.2" />
<line x1="716.48" y1="71.56" x2="720.88" y2="71.56" stroke="#30a565" stroke-width="1.2" />
<polygon points="715.31,67.38 721.38,64 721.38,70.75" fill="#30a565"/>
<line x1="740.24" y1="50.17" x2="740.24" y2="58.54" stroke="#30a565" stroke-width="1.2" />
<line x1="738.04" y1="50.17" x2="742.44" y2="50.17" stroke="#30a565" stroke-width="1.2" />
<line x1="738.04" y1="58.54" x2="742.44" y2="58.54" stroke="#30a565" stroke-width="1.2" />
<polygon points="736.87,54.36 742.94,50.98 742.94,57.73" fill="#30a565"/>
<line x1="761.8" y1="38.55" x2="761.8" y2="46.92" stroke="#30a565" stroke-width="1.2" />
<line x1="759.6" y1="38.55" x2="764" y2="38.55" stroke="#30a565" stroke-width="1.2" />
<line x1="759.6" y1="46.92" x2="764" y2="46.92" stroke="#30a565" stroke-width="1.2" />
<polygon points="758.43,42.73 764.5,39.36 764.5,46.11" fill="#30a565"/>
<line x1="535.3" y1="51.3" x2="562.5" y2="51.3" stroke="#454545" stroke-width="1.5" />
<rect x="546.4" y="48.8" width="5" height="5" fill="#454545"/>
<text x="565.8" y="55.2" font-size="11.5" font-weight="bold" text-anchor="start" >ZnO</text>
<line x1="535.3" y1="66.4" x2="562.5" y2="66.4" stroke="#1a66d8" stroke-width="1.5" />
<circle cx="548.9" cy="66.4" r="2.5" fill="#1a66d8"/>
<text x="565.8" y="70.3" font-size="11.5" font-weight="bold" text-anchor="start" >Au/ZnO-0.5</text>
<line x1="535.3" y1="81.1" x2="562.5" y2="81.1" stroke="#ec4040" stroke-width="1.5" />
<polygon points="548.9,77.85 552.15,81.1 548.9,84.35 545.65,81.1" fill="#ec4040"/>
<text x="565.8" y="85" font-size="11.5" font-weight="bold" text-anchor="start" >Au/ZnO-1.0</text>
<line x1="535.3" y1="96.2" x2="562.5" y2="96.2" stroke="#30a565" stroke-width="1.5" />
<polygon points="545.52,96.2 551.6,92.83 551.6,99.58" fill="#30a565"/>
<text x="565.8" y="100.1" font-size="11.5" font-weight="bold" text-anchor="start" >Au/ZnO-1.5</text>
<rect x="525.1" y="256.5" width="260.4" height="192.4" fill="none" stroke="#000" stroke-width="1.45"/>
<line x1="525.1" y1="438.5" x2="527.9" y2="438.5" stroke="#000" stroke-width="1.3" />
<text x="519.9" y="442.1" font-size="10.5" font-weight="bold" text-anchor="end" >0</text>
<line x1="525.1" y1="417.12" x2="527.9" y2="417.12" stroke="#000" stroke-width="1.3" />
<text x="519.9" y="420.73" font-size="10.5" font-weight="bold" text-anchor="end" >5</text>
<line x1="525.1" y1="395.75" x2="527.9" y2="395.75" stroke="#000" stroke-width="1.3" />
<text x="519.9" y="399.35" font-size="10.5" font-weight="bold" text-anchor="end" >10</text>
<line x1="525.1" y1="374.38" x2="527.9" y2="374.38" stroke="#000" stroke-width="1.3" />
<text x="519.9" y="377.98" font-size="10.5" font-weight="bold" text-anchor="end" >15</text>
<line x1="525.1" y1="353" x2="527.9" y2="353" stroke="#000" stroke-width="1.3" />
<text x="519.9" y="356.6" font-size="10.5" font-weight="bold" text-anchor="end" >20</text>
<line x1="525.1" y1="331.62" x2="527.9" y2="331.62" stroke="#000" stroke-width="1.3" />
<text x="519.9" y="335.23" font-size="10.5" font-weight="bold" text-anchor="end" >25</text>
<line x1="525.1" y1="310.25" x2="527.9" y2="310.25" stroke="#000" stroke-width="1.3" />
<text x="519.9" y="313.85" font-size="10.5" font-weight="bold" text-anchor="end" >30</text>
<line x1="525.1" y1="288.88" x2="527.9" y2="288.88" stroke="#000" stroke-width="1.3" />
<text x="519.9" y="292.48" font-size="10.5" font-weight="bold" text-anchor="end" >35</text>
<line x1="525.1" y1="267.5" x2="527.9" y2="267.5" stroke="#000" stroke-width="1.3" />
<text x="519.9" y="271.1" font-size="10.5" font-weight="bold" text-anchor="end" >40</text>
<line x1="525.1" y1="427.81" x2="526.7" y2="427.81" stroke="#000" stroke-width="1.0" />
<line x1="525.1" y1="406.44" x2="526.7" y2="406.44" stroke="#000" stroke-width="1.0" />
<line x1="525.1" y1="385.06" x2="526.7" y2="385.06" stroke="#000" stroke-width="1.0" />
<line x1="525.1" y1="363.69" x2="526.7" y2="363.69" stroke="#000" stroke-width="1.0" />
<line x1="525.1" y1="342.31" x2="526.7" y2="342.31" stroke="#000" stroke-width="1.0" />
<line x1="525.1" y1="320.94" x2="526.7" y2="320.94" stroke="#000" stroke-width="1.0" />
<line x1="525.1" y1="299.56" x2="526.7" y2="299.56" stroke="#000" stroke-width="1.0" />
<line x1="525.1" y1="278.19" x2="526.7" y2="278.19" stroke="#000" stroke-width="1.0" />
<line x1="536.9" y1="448.9" x2="536.9" y2="445.7" stroke="#000" stroke-width="1.3" />
<text x="536.9" y="462.4" font-size="11" font-weight="bold" text-anchor="middle" >0</text>
<line x1="560.6" y1="448.9" x2="560.6" y2="445.7" stroke="#000" stroke-width="1.3" />
<text x="560.6" y="462.4" font-size="11" font-weight="bold" text-anchor="middle" >10</text>
<line x1="584.3" y1="448.9" x2="584.3" y2="445.7" stroke="#000" stroke-width="1.3" />
<text x="584.3" y="462.4" font-size="11" font-weight="bold" text-anchor="middle" >20</text>
<line x1="608" y1="448.9" x2="608" y2="445.7" stroke="#000" stroke-width="1.3" />
<text x="608" y="462.4" font-size="11" font-weight="bold" text-anchor="middle" >30</text>
<line x1="631.7" y1="448.9" x2="631.7" y2="445.7" stroke="#000" stroke-width="1.3" />
<text x="631.7" y="462.4" font-size="11" font-weight="bold" text-anchor="middle" >40</text>
<line x1="655.4" y1="448.9" x2="655.4" y2="445.7" stroke="#000" stroke-width="1.3" />
<text x="655.4" y="462.4" font-size="11" font-weight="bold" text-anchor="middle" >50</text>
<line x1="679.1" y1="448.9" x2="679.1" y2="445.7" stroke="#000" stroke-width="1.3" />
<text x="679.1" y="462.4" font-size="11" font-weight="bold" text-anchor="middle" >60</text>
<line x1="702.8" y1="448.9" x2="702.8" y2="445.7" stroke="#000" stroke-width="1.3" />
<text x="702.8" y="462.4" font-size="11" font-weight="bold" text-anchor="middle" >70</text>
<line x1="726.5" y1="448.9" x2="726.5" y2="445.7" stroke="#000" stroke-width="1.3" />
<text x="726.5" y="462.4" font-size="11" font-weight="bold" text-anchor="middle" >80</text>
<line x1="750.2" y1="448.9" x2="750.2" y2="445.7" stroke="#000" stroke-width="1.3" />
<text x="750.2" y="462.4" font-size="11" font-weight="bold" text-anchor="middle" >90</text>
<line x1="773.9" y1="448.9" x2="773.9" y2="445.7" stroke="#000" stroke-width="1.3" />
<text x="773.9" y="462.4" font-size="11" font-weight="bold" text-anchor="middle" >100</text>
<line x1="548.75" y1="448.9" x2="548.75" y2="447.1" stroke="#000" stroke-width="1.0" />
<line x1="572.45" y1="448.9" x2="572.45" y2="447.1" stroke="#000" stroke-width="1.0" />
<line x1="596.15" y1="448.9" x2="596.15" y2="447.1" stroke="#000" stroke-width="1.0" />
<line x1="619.85" y1="448.9" x2="619.85" y2="447.1" stroke="#000" stroke-width="1.0" />
<line x1="643.55" y1="448.9" x2="643.55" y2="447.1" stroke="#000" stroke-width="1.0" />
<line x1="667.25" y1="448.9" x2="667.25" y2="447.1" stroke="#000" stroke-width="1.0" />
<line x1="690.95" y1="448.9" x2="690.95" y2="447.1" stroke="#000" stroke-width="1.0" />
<line x1="714.65" y1="448.9" x2="714.65" y2="447.1" stroke="#000" stroke-width="1.0" />
<line x1="738.35" y1="448.9" x2="738.35" y2="447.1" stroke="#000" stroke-width="1.0" />
<line x1="762.05" y1="448.9" x2="762.05" y2="447.1" stroke="#000" stroke-width="1.0" />
<text x="655.4" y="479.7" font-size="16.6" font-weight="bold" text-anchor="middle" >Concentration (ppm)</text>
<text transform="translate(499.9,351) rotate(-90)" font-size="16" font-weight="bold" font-style="italic" text-anchor="middle">S(R<tspan dy="3">a</tspan><tspan dy="-3">/R</tspan><tspan dy="3">g</tspan><tspan dy="-3">)</tspan></text>
<text x="537.6" y="284.1" font-size="40" font-weight="bold" text-anchor="start" >c</text>
<line x1="539.27" y1="425.15" x2="773.9" y2="266.53" stroke="#000" stroke-width="1.6" stroke-dasharray="7,7.2"/>
<polyline points="539.27,430.93 544.01,426.53 548.75,421.83 560.6,414.56 584.3,396.61 608,368.82 631.7,356.42 655.4,341.46 679.1,322.22" fill="none" stroke="#d9141c" stroke-width="1.6" stroke-linejoin="round" />
<polyline points="679.1,322.22 685.74,318.87" fill="none" stroke="#d9141c" stroke-width="1.6" stroke-linejoin="round" />
<polyline points="696.76,313.3 702.8,310.25 726.5,298.28 750.2,288.45 773.9,277.33" fill="none" stroke="#d9141c" stroke-width="1.6" stroke-linejoin="round" />
<rect x="536.87" y="428.73" width="4.8" height="4.4" fill="#f00"/>
<rect x="541.61" y="424.33" width="4.8" height="4.4" fill="#f00"/>
<rect x="546.35" y="419.63" width="4.8" height="4.4" fill="#f00"/>
<rect x="558.2" y="412.36" width="4.8" height="4.4" fill="#f00"/>
<rect x="581.9" y="394.41" width="4.8" height="4.4" fill="#f00"/>
<rect x="605.6" y="366.62" width="4.8" height="4.4" fill="#f00"/>
<rect x="629.3" y="354.22" width="4.8" height="4.4" fill="#f00"/>
<rect x="653" y="339.26" width="4.8" height="4.4" fill="#f00"/>
<rect x="676.7" y="320.02" width="4.8" height="4.4" fill="#f00"/>
<rect x="700.4" y="308.05" width="4.8" height="4.4" fill="#f00"/>
<rect x="724.1" y="296.08" width="4.8" height="4.4" fill="#f00"/>
<rect x="747.8" y="286.25" width="4.8" height="4.4" fill="#f00"/>
<rect x="771.5" y="275.13" width="4.8" height="4.4" fill="#f00"/>
<line x1="537.8" y1="296.2" x2="559.5" y2="296.2" stroke="#d9141c" stroke-width="1.6" />
<rect x="546.2" y="294" width="4.6" height="4.4" fill="#f00"/>
<line x1="537.8" y1="311" x2="559.5" y2="311" stroke="#000" stroke-width="1.6" stroke-dasharray="7,7.3"/>
<text x="565.3" y="299.7" font-size="12" font-weight="bold" text-anchor="start" >Experiment(Au/ZnO-1.0)</text>
<text x="565.3" y="314.7" font-size="12" font-weight="bold" text-anchor="start" >Fitted</text>
<text x="667.4" y="397" font-size="12" font-weight="bold" text-anchor="start" >y = 0.3748x + 2.7469</text>
<text x="668.2" y="416.3" font-size="12" font-weight="bold" text-anchor="start" >R<tspan dy="-4.5" font-size="11.5">2</tspan><tspan dy="4.5"> = 0.9865</tspan></text>
</svg>
</body></html>
